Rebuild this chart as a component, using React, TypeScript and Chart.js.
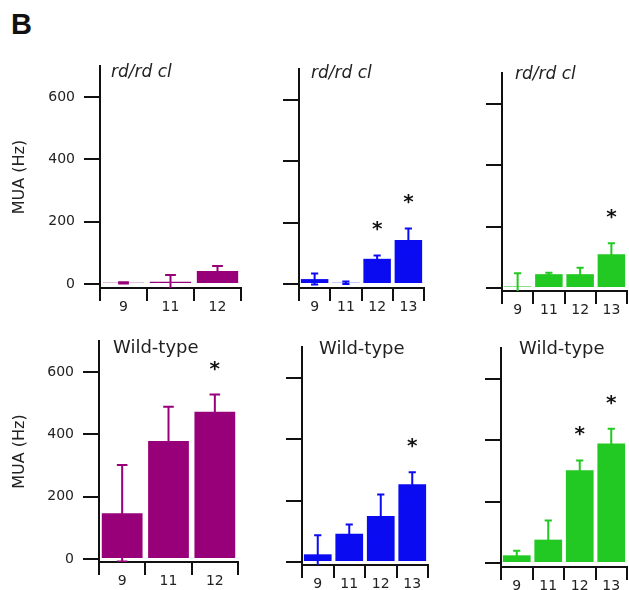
import React, { useEffect, useRef } from 'react';
import { Chart, registerables } from 'chart.js';

Chart.register(...registerables);

// ---------------- data ----------------
const purpleAges = ['9', '11', '12'];
const blueAges = ['9', '11', '12', '13'];
const greenAges = ['9', '11', '12', '13'];
const yTickValues = [0, 200, 400, 600];
const Y_MAX = 700;

const rdPurpleMean = [4, 7, 42];
const rdPurpleErr = [2, 22, 16];
const rdPurpleSig = [false, false, false];

const rdBlueMean = [16, 4, 82, 143];
const rdBlueErr = [18, 4, 11, 38];
const rdBlueSig = [false, false, true, true];

const rdGreenMean = [5, 45, 45, 110];
const rdGreenErr = [43, 5, 21, 36];
const rdGreenSig = [false, false, false, true];

const wtPurpleMean = [147, 379, 473];
const wtPurpleErr = [155, 110, 55];
const wtPurpleSig = [false, false, true];

const wtBlueMean = [25, 92, 150, 253];
const wtBlueErr = [62, 30, 70, 39];
const wtBlueSig = [false, false, false, true];

const wtGreenMean = [25, 76, 302, 389];
const wtGreenErr = [15, 62, 32, 48];
const wtGreenSig = [false, false, true, true];

const rdTitle = 'rd/rd cl';
const wtTitle = 'Wild-type';
const yAxisTitle = 'MUA (Hz)';
const panelLetter = 'B';

// ---------------- styles ----------------
const PURPLE = '#98007a';
const BLUE = '#0b0bf2';
const GREEN = '#22c922';
const AXIS = '#111111';
const TEXT = '#222222';
const FONT = '"DejaVu Sans", "Liberation Sans", Arial, sans-serif';

type Geom = { l: number; r: number; y0: number; y600: number; xAxisY: number };
type Spec = {
  labels: string[];
  mean: number[];
  err: number[];
  sig: boolean[];
  color: string;
  title: string;
  italic: boolean;
  showY: boolean;
  geom: Geom;
  titlePos: { left: number; baseline: number; size: number };
};

const panels: Spec[] = [
  {
    labels: purpleAges, mean: rdPurpleMean, err: rdPurpleErr, sig: rdPurpleSig, color: PURPLE,
    title: rdTitle, italic: true, showY: true,
    geom: { l: 100, r: 241, y0: 284, y600: 97, xAxisY: 288 },
    titlePos: { left: 111, baseline: 77, size: 17 },
  },
  {
    labels: blueAges, mean: rdBlueMean, err: rdBlueErr, sig: rdBlueSig, color: BLUE,
    title: rdTitle, italic: true, showY: false,
    geom: { l: 299, r: 424, y0: 284, y600: 100, xAxisY: 288 },
    titlePos: { left: 311, baseline: 78, size: 17 },
  },
  {
    labels: greenAges, mean: rdGreenMean, err: rdGreenErr, sig: rdGreenSig, color: GREEN,
    title: rdTitle, italic: true, showY: false,
    geom: { l: 502, r: 627, y0: 288, y600: 104, xAxisY: 291 },
    titlePos: { left: 515, baseline: 79, size: 17 },
  },
  {
    labels: purpleAges, mean: wtPurpleMean, err: wtPurpleErr, sig: wtPurpleSig, color: PURPLE,
    title: wtTitle, italic: false, showY: true,
    geom: { l: 99, r: 238, y0: 559, y600: 372, xAxisY: 562 },
    titlePos: { left: 113, baseline: 353, size: 18 },
  },
  {
    labels: blueAges, mean: wtBlueMean, err: wtBlueErr, sig: wtBlueSig, color: BLUE,
    title: wtTitle, italic: false, showY: false,
    geom: { l: 302, r: 428, y0: 562, y600: 378, xAxisY: 565 },
    titlePos: { left: 319, baseline: 354, size: 18 },
  },
  {
    labels: greenAges, mean: wtGreenMean, err: wtGreenErr, sig: wtGreenSig, color: GREEN,
    title: wtTitle, italic: false, showY: false,
    geom: { l: 501, r: 627, y0: 563, y600: 379, xAxisY: 567 },
    titlePos: { left: 519, baseline: 354, size: 18 },
  },
];

function Panel({ spec }: { spec: Spec }) {
  const ref = useRef<HTMLCanvasElement | null>(null);
  const g = spec.geom;
  const ppu = (g.y0 - g.y600) / 600;
  const topPx = g.y0 - Y_MAX * ppu;
  const yMin = -(g.xAxisY - g.y0) / ppu;
  const padT = 22;
  const padB = 4;
  const padL = 10;
  const padR = 1;
  const xH = 30;
  const canvasLeft = spec.showY ? 0 : g.l - 40;
  const yW = g.l - canvasLeft - padL;
  const canvasTop = Math.round(topPx) - padT;
  const chartH = Math.round(g.xAxisY) - Math.round(topPx);
  const cw = padL + yW + (g.r - g.l) + padR;
  const ch = padT + chartH + xH + padB;

  useEffect(() => {
    const canvas = ref.current;
    if (!canvas) return;
    const errPlugin = {
      id: 'errbars',
      afterDatasetsDraw(chart: any) {
        const { ctx, chartArea } = chart;
        const meta = chart.getDatasetMeta(0);
        const ys = chart.scales.y;
        ctx.save();
        ctx.beginPath();
        ctx.rect(chartArea.left, chartArea.top, chartArea.right - chartArea.left, chartArea.bottom - chartArea.top);
        ctx.clip();
        ctx.strokeStyle = spec.color;
        ctx.lineWidth = 2;
        meta.data.forEach((bar: any, i: number) => {
          const m = spec.mean[i];
          const e = spec.err[i];
          const x = bar.x;
          const cap = Math.max(3.5, bar.width * 0.13);
          const yHi = ys.getPixelForValue(m + e);
          const yLo = ys.getPixelForValue(m - e);
          ctx.beginPath();
          ctx.moveTo(x, yLo);
          ctx.lineTo(x, yHi);
          ctx.moveTo(x - cap, yHi);
          ctx.lineTo(x + cap, yHi);
          ctx.moveTo(x - cap, yLo);
          ctx.lineTo(x + cap, yLo);
          ctx.stroke();
        });
        ctx.restore();
        ctx.save();
        ctx.fillStyle = '#111';
        ctx.font = 'bold 20px ' + FONT;
        ctx.textAlign = 'center';
        ctx.textBaseline = 'alphabetic';
        meta.data.forEach((bar: any, i: number) => {
          if (!spec.sig[i]) return;
          const yHi = ys.getPixelForValue(spec.mean[i] + spec.err[i]);
          ctx.fillText('*', bar.x, yHi - 20);
        });
        ctx.restore();
      },
    };

    const chart = new Chart(canvas, {
      type: 'bar',
      data: {
        labels: spec.labels,
        datasets: [
          {
            data: spec.mean,
            backgroundColor: spec.color,
            borderWidth: 0,
            barPercentage: 0.88,
            categoryPercentage: 1,
          },
        ],
      },
      options: {
        responsive: false,
        maintainAspectRatio: false,
        animation: false,
        devicePixelRatio: 1,
        layout: { padding: { left: padL, top: padT, right: padR, bottom: padB } },
        plugins: {
          legend: { display: false },
          tooltip: { enabled: false },
          title: { display: false },
        },
        scales: {
          x: {
            type: 'category',
            offset: true,
            grid: {
              display: true,
              offset: true,
              drawOnChartArea: false,
              drawTicks: true,
              tickLength: 13,
              lineWidth: 2,
              color: AXIS,
            },
            border: { display: true, width: 2, color: AXIS },
            ticks: {
              color: TEXT,
              font: { family: FONT, size: 14 },
              padding: -2,
              maxRotation: 0,
              autoSkip: false,
            },
            afterFit: (s: any) => {
              s.height = xH;
            },
          },
          y: {
            type: 'linear',
            min: yMin,
            max: Y_MAX,
            afterBuildTicks: (s: any) => {
              s.ticks = yTickValues.map((v) => ({ value: v }));
            },
            grid: {
              display: true,
              drawOnChartArea: false,
              drawTicks: true,
              tickLength: 16,
              lineWidth: 2,
              color: AXIS,
            },
            border: { display: true, width: 2, color: AXIS },
            ticks: {
              display: spec.showY,
              color: TEXT,
              font: { family: FONT, size: 14 },
              padding: 9,
            },
            title: {
              display: spec.showY,
              text: yAxisTitle,
              color: TEXT,
              font: { family: FONT, size: 16 },
              padding: 0,
            },
            afterFit: (s: any) => {
              s.width = yW;
            },
          },
        },
      } as any,
      plugins: [errPlugin],
    });
    return () => chart.destroy();
  }, []);

  const tp = spec.titlePos;
  return (
    <>
      <canvas
        ref={ref}
        width={cw}
        height={ch}
        style={{ position: 'absolute', left: canvasLeft, top: canvasTop, width: cw, height: ch }}
      />
      <div
        style={{
          position: 'absolute',
          left: tp.left,
          top: tp.baseline - 0.846 * tp.size,
          fontFamily: FONT,
          fontSize: tp.size,
          lineHeight: 1,
          fontStyle: spec.italic ? 'italic' : 'normal',
          color: TEXT,
          whiteSpace: 'nowrap',
        }}
      >
        {spec.title}
      </div>
    </>
  );
}

export default function App() {
  return (
    <div
      style={{
        position: 'absolute',
        left: 0,
        top: 0,
        width: 629,
        height: 590,
        background: '#ffffff',
        overflow: 'hidden',
      }}
    >
      <div
        style={{
          position: 'absolute',
          left: 11,
          top: 10,
          fontFamily: '"Liberation Sans", Arial, sans-serif',
          fontWeight: 'bold',
          fontSize: 29,
          lineHeight: 1,
          color: '#111',
        }}
      >
        {panelLetter}
      </div>
      {panels.map((p, i) => (
        <Panel key={i} spec={p} />
      ))}
    </div>
  );
}
